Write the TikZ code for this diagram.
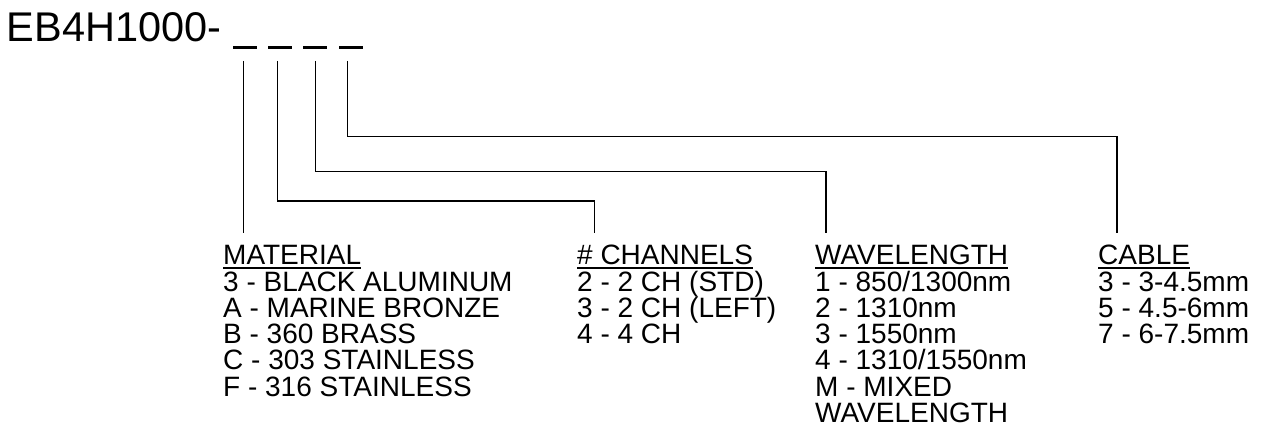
\documentclass[tikz,border=0pt]{standalone}
\usepackage{fontspec}
\setmainfont{Liberation Sans}
\usepackage{tikz}
\usetikzlibrary{calc}

\tikzset{
	title/.style={inner sep=0, font=\fontsize{41.5}{44}\selectfont},
	head/.style={inner sep=0, font=\fontsize{28}{26.2}\selectfont},
	list/.style={inner sep=0, align=left, font=\fontsize{28}{26.2}\selectfont},
	slot/.style={inner sep=0, fill=black, minimum width=24pt, minimum height=3.5pt},
	link/.style={line width=1.2pt, black},
	uline/.style={line width=1.7pt, black}
}

\begin{document}
\begin{tikzpicture}[x=1pt,y=-1pt]
			\useasboundingbox (0,0) rectangle (1265,430);

			\node[title, anchor=base west] (part) at (6.7,41.7) {EB4H1000-};
			\node[slot] (u1) at (245,47.5) {};
			\node[slot] (u2) at (280,47.5) {};
			\node[slot] (u3) at (315,47.5) {};
			\node[slot] (u4) at (350.5,47.5) {};

			%start points below the slots
			\coordinate (s1) at (243.5,61);
			\coordinate (s2) at (277.3,61);
			\coordinate (s3) at (315.3,61);
			\coordinate (s4) at (347.7,61);

			\coordinate (k2) at (594.5,201);
			\coordinate (k3) at (826,171.3);
			\coordinate (k4) at (1117,136.3);

			\coordinate (t1) at (243.5,232.7);
			\coordinate (t2) at (594.5,232.7);
			\coordinate (t3) at (826,232.7);
			\coordinate (t4) at (1117,232.7);

			\node[head, anchor=base west] (mat) at (223,265) {MATERIAL};
			\node[head, anchor=base west] (chan) at (577,265) {\# CHANNELS};
			\node[head, anchor=base west] (wave) at (815,265) {WAVELENGTH};
			\node[head, anchor=base west] (cab) at (1098,265) {CABLE};

			%base of a list = baseline of its last line, 26.2 per line
			\node[list, anchor=base west] (matl) at ($(mat.base west)+(0,131)$) {3 - BLACK ALUMINUM\\A - MARINE BRONZE\\B - 360 BRASS\\C - 303 STAINLESS\\F - 316 STAINLESS};
			\node[list, anchor=base west] (chanl) at ($(chan.base west)+(0,78.6)$) {2 - 2 CH (STD)\\3 - 2 CH (LEFT)\\4 - 4 CH};
			\node[list, anchor=base west] (wavel) at ($(wave.base west)+(0,157.2)$) {1 - 850/1300nm\\2 - 1310nm\\3 - 1550nm\\4 - 1310/1550nm\\M - MIXED\\WAVELENGTH};
			\node[list, anchor=base west] (cabl) at ($(cab.base west)+(0,78.6)$) {3 - 3-4.5mm\\5 - 4.5-6mm\\7 - 6-7.5mm};

			\draw[uline] ($(mat.base west)+(0,3.3)$) -- ($(mat.base east)+(0,3.3)$);
			\draw[uline] ($(chan.base west)+(0,3.3)$) -- ($(chan.base east)+(0,3.3)$);
			\draw[uline] ($(wave.base west)+(0,3.3)$) -- ($(wave.base east)+(0,3.3)$);
			\draw[uline] ($(cab.base west)+(0,3.3)$) -- ($(cab.base east)+(0,3.3)$);

			\draw[link] (s1) -- (t1);
			\draw[link] (s2) |- (k2) -- (t2);
			\draw[link] (s3) |- (k3) -- (t3);
			\draw[link] (s4) |- (k4) -- (t4);

		\end{tikzpicture}
\end{document}
